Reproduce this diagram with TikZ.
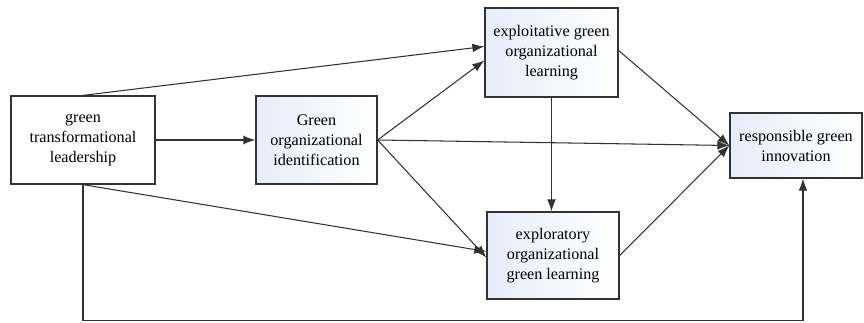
\documentclass[tikz,border=0pt]{standalone}
\usepackage{fontspec}
\setmainfont{Liberation Serif}
\usetikzlibrary{arrows.meta, calc, shadows}

\definecolor{boxblue}{RGB}{230,236,249}
\definecolor{linegray}{RGB}{50,50,50}

\begin{document}
\begin{tikzpicture}[
    font=\fontsize{11.5}{14.2}\selectfont,
    box/.style={draw=linegray, line width=0.9pt, align=center, inner sep=2pt,
      fill=white, drop shadow={shadow xshift=0.6pt, shadow yshift=-0.6pt, opacity=0.35}},
    shadedbox/.style={box, left color=boxblue, right color=white},
    link/.style={draw=linegray, line width=0.75pt, -{Latex[length=3mm, width=2.2mm]}}
  ]
  \useasboundingbox (0,0) rectangle (21.6,8.05);

  % constructs
  \node[box, minimum width=3.6cm, minimum height=2.2cm] (gtl) at (2.075,4.55)
    {green\\transformational\\leadership};
  \node[shadedbox, minimum width=3.025cm, minimum height=2.2cm] (goi) at (7.9125,4.55)
    {Green\\organizational\\identification};
  \node[shadedbox, minimum width=3.325cm, minimum height=2.225cm] (egol) at (13.7875,6.7375)
    {exploitative green\\organizational\\learning};
  \node[shadedbox, minimum width=3.3cm, minimum height=2.175cm] (eogl) at (13.825,1.6625)
    {exploratory\\organizational\\green learning};
  \node[shadedbox, minimum width=3.3cm, minimum height=1.625cm] (rgi) at (19.9,4.4125)
    {responsible green\\innovation};

  % paths
  \coordinate (low) at ($(rgi.south)+(0.175,0)$);
  \draw[link] (gtl.north) -- ($(egol.west)+(0,0.15)$);
  \draw[link] (gtl.east) -- (goi.west);
  \draw[link] (gtl.south) -- ($(eogl.west)+(0,0.1)$);
  \draw[link] (gtl.south) -- (gtl.south |- 0,0.04) -| (low);
  \draw[link] (goi.east) -- ($(egol.west)+(0,-0.2)$);
  \draw[link] (goi.east) -- (rgi.west);
  \draw[link] (goi.east) -- ($(eogl.west)+(0,-0.05)$);
  \draw[link] (egol.south) -- (egol.south |- eogl.north);
  \draw[link] ($(egol.east)+(0,0.05)$) -- (rgi.west);
  \draw[link] (eogl.east) -- (rgi.west);
\end{tikzpicture}
\end{document}
